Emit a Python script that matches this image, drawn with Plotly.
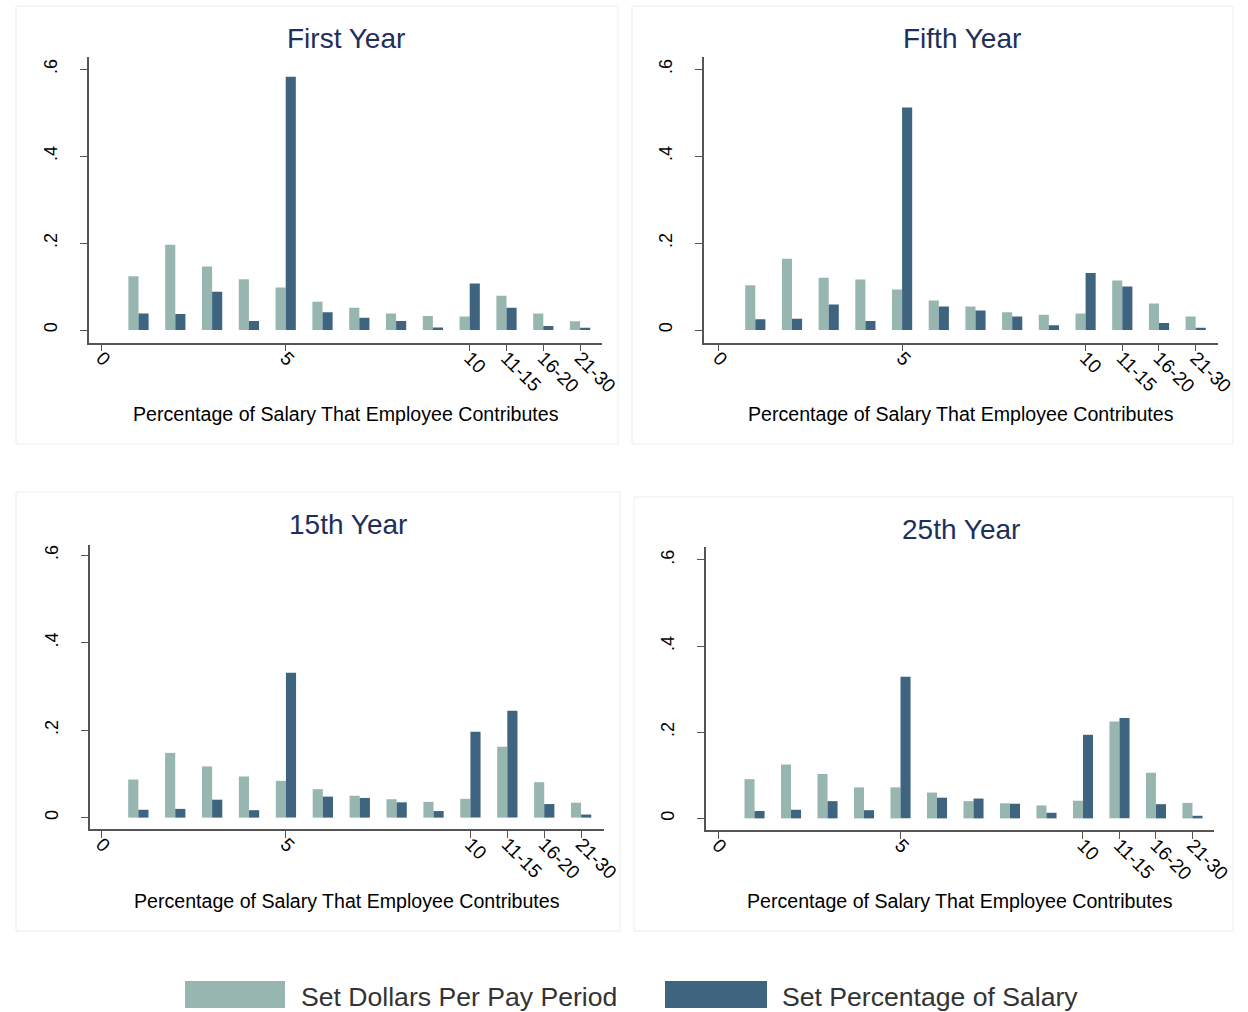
import plotly.graph_objects as go

# Contribution categories (percent of salary), drawn at positions 1..13
positions = list(range(1, 14))
categories = ["1", "2", "3", "4", "5", "6", "7", "8", "9", "10", "11-15", "16-20", "21-30"]

tick_positions = [0, 5, 10, 11, 12, 13]
tick_labels = ["0", "5", "10", "11-15", "16-20", "21-30"]

y_ticks = [0, 0.2, 0.4, 0.6]
y_tick_labels = ["0", ".2", ".4", ".6"]

panel_titles = ["First Year", "Fifth Year", "15th Year", "25th Year"]

# Share of employees, "Set Dollars Per Pay Period"
dollars_first = [0.124, 0.196, 0.146, 0.117, 0.098, 0.065, 0.051, 0.038, 0.032, 0.031, 0.079, 0.038, 0.020]
dollars_fifth = [0.103, 0.164, 0.120, 0.116, 0.093, 0.068, 0.054, 0.041, 0.035, 0.038, 0.114, 0.061, 0.031]
dollars_15th = [0.087, 0.148, 0.117, 0.094, 0.084, 0.065, 0.050, 0.042, 0.036, 0.043, 0.162, 0.081, 0.034]
dollars_25th = [0.091, 0.125, 0.103, 0.072, 0.072, 0.060, 0.040, 0.035, 0.030, 0.041, 0.225, 0.106, 0.036]

# Share of employees, "Set Percentage of Salary"
percent_first = [0.038, 0.037, 0.088, 0.021, 0.583, 0.041, 0.028, 0.021, 0.006, 0.107, 0.051, 0.009, 0.005]
percent_fifth = [0.025, 0.026, 0.059, 0.021, 0.512, 0.054, 0.045, 0.031, 0.011, 0.131, 0.100, 0.016, 0.005]
percent_15th = [0.018, 0.020, 0.041, 0.017, 0.331, 0.048, 0.045, 0.035, 0.015, 0.196, 0.244, 0.031, 0.007]
percent_25th = [0.017, 0.020, 0.040, 0.019, 0.329, 0.048, 0.046, 0.034, 0.013, 0.194, 0.233, 0.033, 0.006]

dollars = [dollars_first, dollars_fifth, dollars_15th, dollars_25th]
percents = [percent_first, percent_fifth, percent_15th, percent_25th]

series_names = ["Set Dollars Per Pay Period", "Set Percentage of Salary"]
LIGHT = "#98b6b0"
DARK = "#3e6480"
TITLE_COLOR = "#1e2f5c"
AXIS_COLOR = "#555555"
FONT = "Liberation Sans, Arial, sans-serif"

# Layout grid is 1248 x 1012 units; the canvas itself is a bit wider
GRID_W, GRID_H = 1248, 1012
W, H = 1266, 1012


def px_x(p):
    return p / GRID_W


def px_y(p):
    return 1 - p / GRID_H


# Plot-area geometry for each panel (pixel box) and axis ranges
panels = [
    dict(x0=89, x1=602, y0=56.7, y1=342.7, xr=[-0.345, 13.595], yr=[-0.0292, 0.629],
         box=(16, 6, 618, 444), title_xy=(346, 38), xt_xy=(346, 414)),
    dict(x0=704, x1=1217.7, y0=56.7, y1=342.7, xr=[-0.398, 13.6], yr=[-0.0292, 0.629],
         box=(632, 6, 1233, 444), title_xy=(962, 38), xt_xy=(961, 414)),
    dict(x0=90, x1=604, y0=545, y1=829, xr=[-0.31, 13.62], yr=[-0.026, 0.623],
         box=(16, 492, 620, 931), title_xy=(348, 524), xt_xy=(347, 901)),
    dict(x0=706, x1=1214, y0=547, y1=830, xr=[-0.33, 13.59], yr=[-0.027, 0.630],
         box=(634, 497, 1233, 931), title_xy=(961, 529), xt_xy=(960, 901)),
]

fig = go.Figure()
shapes = []
annotations = []

for i, p in enumerate(panels):
    n = "" if i == 0 else str(i + 1)
    xa, ya = "x" + n, "y" + n
    fig.add_trace(go.Bar(x=positions, y=dollars[i], name=series_names[0], marker_color=LIGHT,
                         marker_line_width=0, xaxis=xa, yaxis=ya, offsetgroup="a",
                         showlegend=False, customdata=categories,
                         hovertemplate="%{customdata}: %{y}<extra></extra>"))
    fig.add_trace(go.Bar(x=positions, y=percents[i], name=series_names[1], marker_color=DARK,
                         marker_line_width=0, xaxis=xa, yaxis=ya, offsetgroup="b",
                         showlegend=False, customdata=categories,
                         hovertemplate="%{customdata}: %{y}<extra></extra>"))

    axis_common = dict(showline=True, linecolor=AXIS_COLOR, linewidth=1.5, ticks="outside",
                       ticklen=7, tickwidth=1.2, tickcolor=AXIS_COLOR, showgrid=False,
                       zeroline=False)
    fig.update_layout(**{
        "xaxis" + n: dict(domain=[px_x(p["x0"]), px_x(p["x1"])], range=p["xr"],
                          anchor=ya, tickmode="array", tickvals=tick_positions,
                          ticktext=tick_labels, tickangle=45, ticklabelstandoff=-12,
                          tickfont=dict(family=FONT, size=19, color="black"),
                          **axis_common),
        "yaxis" + n: dict(domain=[px_y(p["y1"]), px_y(p["y0"])], range=p["yr"],
                          anchor=xa, tickmode="array", tickvals=y_ticks,
                          ticktext=y_tick_labels, tickangle=-90, ticklabelstandoff=16,
                          tickfont=dict(family=FONT, size=18, color="black"),
                          **axis_common),
    })

    bx0, by0, bx1, by1 = p["box"]
    shapes.append(dict(type="rect", xref="paper", yref="paper", layer="below",
                       x0=px_x(bx0), x1=px_x(bx1), y0=px_y(by1), y1=px_y(by0),
                       line=dict(color="#ececec", width=1), fillcolor="rgba(0,0,0,0)"))

    tx, ty = p["title_xy"]
    annotations.append(dict(text=panel_titles[i], xref="paper", yref="paper",
                            x=px_x(tx), y=px_y(ty), xanchor="center", yanchor="middle",
                            showarrow=False, font=dict(family=FONT, size=28, color=TITLE_COLOR)))
    xx, xy = p["xt_xy"]
    annotations.append(dict(text="Percentage of Salary That Employee Contributes",
                            xref="paper", yref="paper", x=px_x(xx), y=px_y(xy),
                            xanchor="center", yanchor="middle", showarrow=False,
                            font=dict(family=FONT, size=19.6, color="black")))

# Shared legend along the bottom
legend_items = [
    (185, 285, 299, LIGHT, series_names[0]),
    (665, 767, 780, DARK, series_names[1]),
]
for sx0, sx1, tx, col, label in legend_items:
    shapes.append(dict(type="rect", xref="paper", yref="paper",
                       x0=px_x(sx0), x1=px_x(sx1), y0=px_y(1008), y1=px_y(981),
                       line=dict(width=0), fillcolor=col))
    annotations.append(dict(text=label, xref="paper", yref="paper", x=px_x(tx), y=px_y(997),
                            xanchor="left", yanchor="middle", showarrow=False,
                            font=dict(family=FONT, size=26.6, color="#333333")))

fig.update_layout(
    width=W, height=H, autosize=False,
    margin=dict(l=0, r=0, t=0, b=0),
    paper_bgcolor="white", plot_bgcolor="white",
    barmode="group", bargap=0.45, bargroupgap=0,
    shapes=shapes, annotations=annotations,
    showlegend=False,
)

fig.write_html("out.html", config={"responsive": False})
